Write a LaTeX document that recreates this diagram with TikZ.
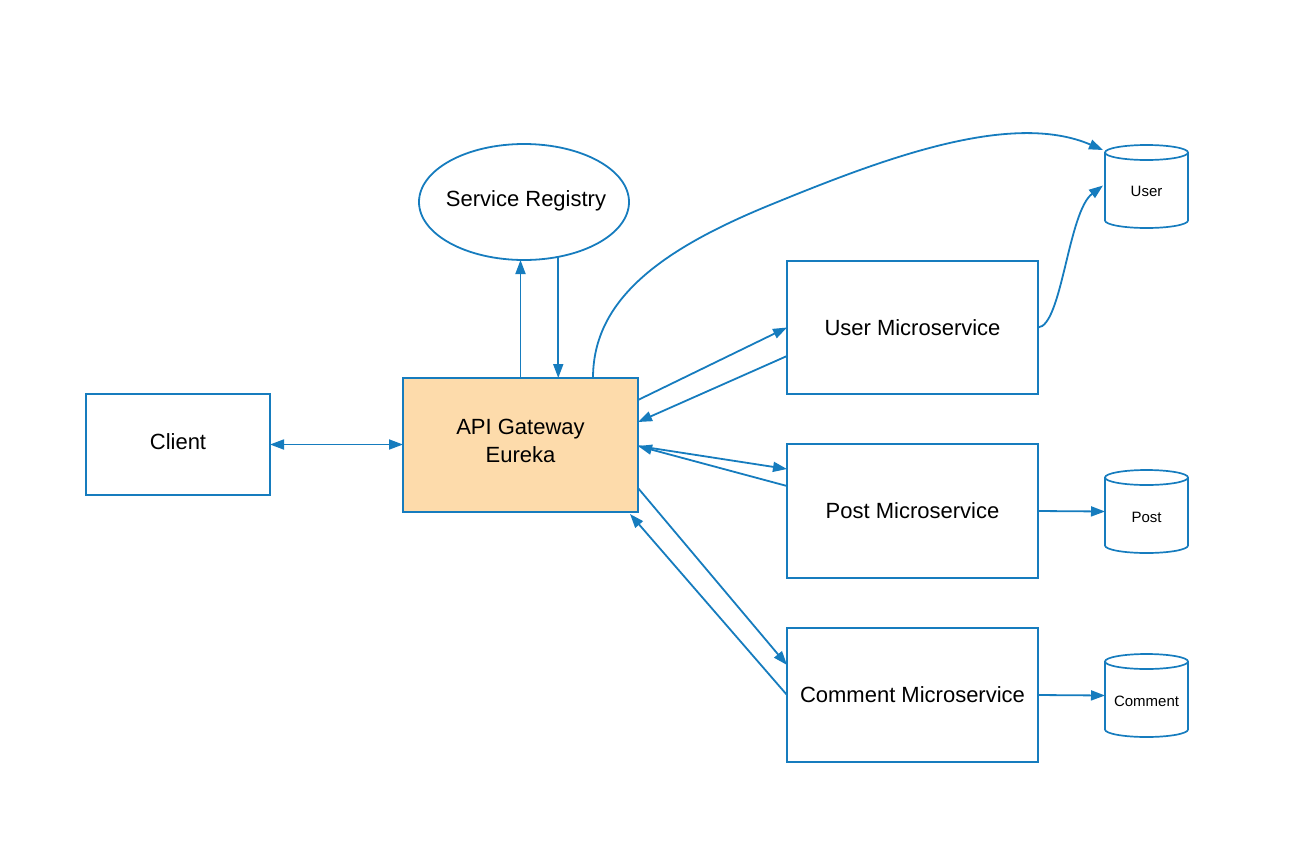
\documentclass[tikz,border=0pt]{standalone}
\usepackage{fontspec}
\setmainfont{Liberation Sans}
\usetikzlibrary{arrows.meta,calc,shapes.geometric}
\definecolor{lblue}{RGB}{22,124,190}
\definecolor{peach}{RGB}{253,219,171}
\tikzset{
  box/.style={draw=lblue,line width=1.8pt,rectangle,inner sep=0pt,outer sep=0pt,font=\fontsize{22}{28}\selectfont,align=center},
  dbnode/.style={rectangle,inner sep=0pt,outer sep=0pt,minimum width=83pt,minimum height=83pt,font=\fontsize{15}{18}\selectfont},
  lbl/.style={font=\fontsize{22}{28}\selectfont,align=center,inner sep=0pt},
  dblbl/.style={font=\fontsize{15}{18}\selectfont,inner sep=0pt},
  conn/.style={draw=lblue,line width=1.8pt,-{Triangle[length=14pt,width=10pt]}},
  bconn/.style={draw=lblue,line width=1.8pt,{Triangle[length=14pt,width=10pt]}-{Triangle[length=14pt,width=10pt]}},
  cyl/.style={draw=lblue,line width=1.7pt}
}
\newcommand{\cylout}[1]{%
  \draw[cyl] ([yshift=-7.5pt]#1.north west) -- ([yshift=7.5pt]#1.south west)
    arc[start angle=180,end angle=360,x radius=41.5pt,y radius=7.5pt]
    -- ([yshift=-7.5pt]#1.north east)
    arc[start angle=0,end angle=360,x radius=41.5pt,y radius=7.5pt];}
\begin{document}
\begin{tikzpicture}[x=1pt,y=-1pt]
\useasboundingbox (0,0) rectangle (1306,860);
% nodes
\node[box,minimum width=184pt,minimum height=101pt] (cl) at (178,444.5) {};
\node[lbl] at ($(cl.center)+(0,-3)$) {Client};
\node[box,fill=peach,minimum width=235pt,minimum height=134pt] (gw) at (520.5,445) {};
\node[lbl] at ($(gw.center)+(0,-4)$) {API Gateway\\Eureka};
\node[draw=lblue,line width=1.8pt,ellipse,inner sep=0pt,outer sep=0pt,minimum width=210pt,minimum height=116pt] (sr) at (524,202) {};
\node[lbl] at ($(sr.center)+(2,-1)$) {Service Registry};
\node[box,minimum width=251pt,minimum height=133pt] (ums) at (912.5,327.5) {User Microservice};
\node[box,minimum width=251pt,minimum height=134pt] (pms) at (912.5,511) {Post Microservice};
\node[box,minimum width=251pt,minimum height=134pt] (cms) at (912.5,695) {Comment Microservice};
\node[dbnode] (udb) at (1146.5,186.5) {};
\node[dbnode] (pdb) at (1146.5,511.5) {};
\node[dbnode] (cdb) at (1146.5,695.5) {};
\cylout{udb}\cylout{pdb}\cylout{cdb}
\node[dblbl] at ($(udb.center)+(0,5)$) {User};
\node[dblbl] at ($(pdb.center)+(0,6)$) {Post};
\node[dblbl] at ($(cdb.center)+(0,6)$) {Comment};
% connectors
\draw[bconn] (cl.east) -- (cl.east -| gw.west);
\draw[conn] (gw.north) -- (gw.north |- sr.south);
\draw[conn] (sr.-58) -- (sr.-58 |- gw.north);
\draw[conn] ($(gw.north east)+(-45,0)$) .. controls (593,300) and (660,250) .. (770,205)
   .. controls (880,160) and (1010,110) .. ($(udb.north west)+(-2,5)$);
\draw[conn] (ums.east) .. controls (1062,326) and (1068,212) .. ($(udb.west)+(-2,-1)$);
\draw[conn] ($(gw.north east)+(0,22)$) -- (ums.west);
\draw[conn] ($(ums.south west)+(0,-38)$) -- ($(gw.north east)+(0,44)$);
\draw[conn] ($(gw.north east)+(0,68)$) -- ($(pms.north west)+(0,25)$);
\draw[conn] ($(pms.north west)+(0,42)$) -- ($(gw.north east)+(0,68)$);
\draw[conn] ($(gw.south east)+(0,-24)$) -- ($(cms.north west)+(0,37)$);
\draw[conn] (cms.west) -- ($(gw.south east)+(-8,2)$);
\draw[conn] (pms.east) -- (pdb.west);
\draw[conn] (cms.east) -- (cdb.west);
\end{tikzpicture}
\end{document}
